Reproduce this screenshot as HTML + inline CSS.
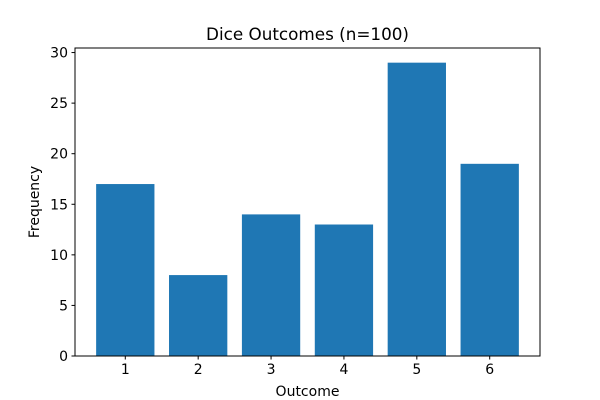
<!DOCTYPE html>
<html><head><meta charset="utf-8"><style>
body{margin:0;background:#fff;}
svg{display:block;font-family:"DejaVu Sans","Liberation Sans",sans-serif;}
</style></head><body>
<svg id="chart" width="600" height="400">
<rect width="600" height="400" fill="#fff"/>
<text x="307.5" y="40" text-anchor="middle" font-size="16.8" fill="#000">Dice Outcomes (n=100)</text>
<g id="bars"></g>
<g id="xticks"></g>
<g id="yticks"></g>
<rect x="75" y="48" width="465" height="308" fill="none" stroke="#000" stroke-width="1"/>
<text x="307.5" y="396" text-anchor="middle" font-size="14">Outcome</text>
<text x="0" y="0" transform="translate(39,202) rotate(-90)" text-anchor="middle" font-size="14">Frequency</text>
</svg>
<script>
const categories = [1, 2, 3, 4, 5, 6];
const frequencies = [17, 8, 14, 13, 29, 19];
const yTickValues = [0, 5, 10, 15, 20, 25, 30];

const L = 75, R = 540, T = 48, B = 356;
const xMin = 0.31, xMax = 6.69, yMin = 0, yMax = 30.45;
const xs = v => L + (v - xMin) / (xMax - xMin) * (R - L);
const ys = v => B - (v - yMin) / (yMax - yMin) * (B - T);
const NS = "http://www.w3.org/2000/svg";
const mk = (tag, attrs, parent) => { const e = document.createElementNS(NS, tag); for (const k in attrs) e.setAttribute(k, attrs[k]); parent.appendChild(e); return e; };

const bars = document.getElementById('bars');
categories.forEach((c, i) => {
  const x0 = xs(c - 0.4), x1 = xs(c + 0.4);
  const r = mk('rect', {x: x0, y: ys(frequencies[i]), width: x1 - x0, height: ys(0) - ys(frequencies[i]), fill: '#1f77b4'}, bars);
  
  
});
const xt = document.getElementById('xticks');
categories.forEach(c => {
  const x = xs(c);
  const l = mk('line', {x1: x, x2: x, y1: B, y2: B + 3.5, stroke: '#000'}, xt);
  
  
  const t = mk('text', {x: x, y: B + 18, 'text-anchor': 'middle', 'font-size': 14}, xt);
  t.textContent = c;
  
  
});
const yt = document.getElementById('yticks');
yTickValues.forEach(v => {
  const y = ys(v);
  const l = mk('line', {x1: L - 3.5, x2: L, y1: y, y2: y, stroke: '#000'}, yt);
  
  
  const t = mk('text', {x: L - 7, y: y + 5, 'text-anchor': 'end', 'font-size': 14}, yt);
  t.textContent = v;
  
  
});
</script>
</body></html>
